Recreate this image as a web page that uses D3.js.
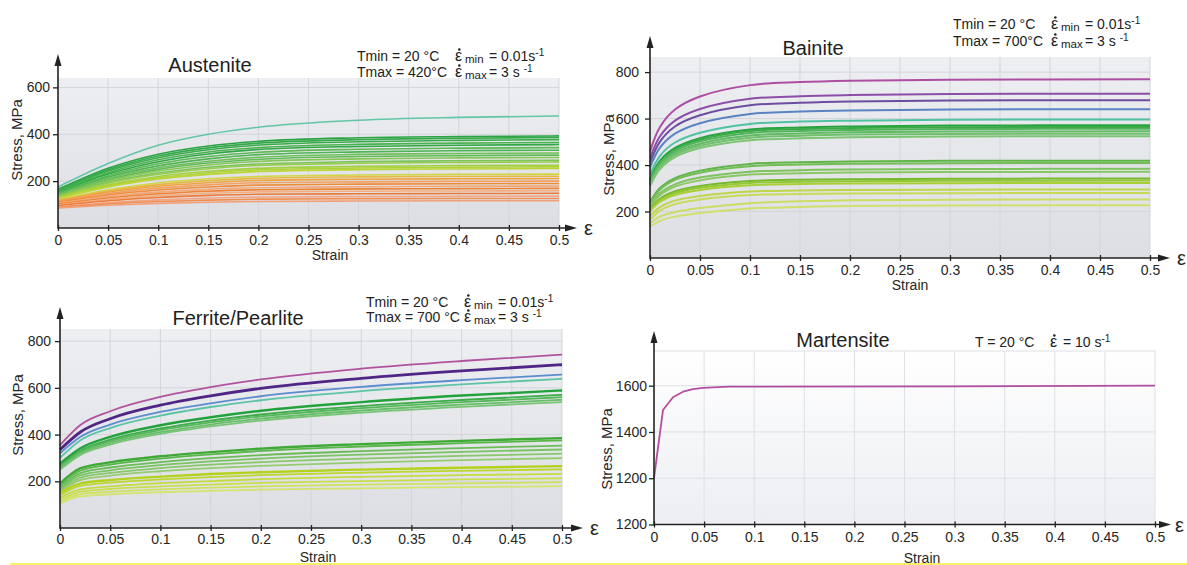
<!DOCTYPE html>
<html><head><meta charset="utf-8">
<script src="https://cdn.jsdelivr.net/npm/d3@7"></script>
<style>body{margin:0;background:#fff;}svg{display:block;}</style>
</head><body><svg id="c" width="1187" height="565"></svg>
<script>
// ---------- shared axis data ----------
const strainTicks = [0, 0.05, 0.1, 0.15, 0.2, 0.25, 0.3, 0.35, 0.4, 0.45, 0.5];
const strainTickLabels = ["0", "0.05", "0.1", "0.15", "0.2", "0.25", "0.3", "0.35", "0.4", "0.45", "0.5"];

// ---------- Austenite ----------
const austeniteStrain = [0, 0.05, 0.1, 0.15, 0.2, 0.3, 0.4, 0.5];
const austeniteStress = [
  [175, 275, 353, 400, 430, 460, 472, 478],
  [165, 255, 315, 350, 370, 385, 390, 393],
  [160, 248, 307, 342, 362, 377, 383, 386],
  [158, 243, 300, 334, 354, 368, 374, 377],
  [155, 236, 291, 324, 343, 357, 362, 365],
  [150, 230, 283, 316, 335, 348, 353, 356],
  [148, 223, 274, 305, 323, 336, 341, 343],
  [145, 217, 265, 295, 313, 325, 330, 332],
  [142, 211, 257, 285, 302, 314, 318, 320],
  [140, 206, 250, 277, 293, 305, 309, 311],
  [138, 201, 243, 269, 284, 295, 299, 301],
  [135, 195, 234, 259, 273, 283, 287, 289],
  [133, 191, 229, 253, 267, 276, 280, 282],
  [130, 184, 220, 242, 255, 263, 266, 268],
  [128, 180, 214, 236, 248, 256, 259, 261],
  [125, 175, 209, 229, 241, 249, 252, 254],
  [120, 163, 192, 210, 220, 226, 229, 230],
  [118, 158, 185, 202, 212, 218, 220, 221],
  [115, 153, 178, 193, 203, 208, 210, 211],
  [112, 147, 170, 184, 193, 197, 199, 200],
  [110, 141, 162, 175, 183, 187, 189, 190],
  [105, 134, 153, 165, 172, 176, 178, 179],
  [102, 128, 146, 157, 163, 167, 168, 169],
  [98, 122, 138, 148, 154, 157, 158, 159],
  [95, 116, 130, 139, 144, 146, 147, 148],
  [90, 108, 120, 128, 132, 134, 135, 136],
  [88, 103, 113, 119, 123, 125, 126, 126],
  [85, 97, 105, 110, 113, 115, 116, 116]
];
const austeniteColors = ["#63c6a6", "#2aa443", "#35a949", "#3aab4a", "#4ab24e", "#2fa845", "#5db953", "#4fb456", "#72c05a", "#62bb5a",
  "#86c756", "#7cc45c", "#97cd4f", "#a3d040", "#aed33a", "#b9d634", "#d2d645", "#e6b848", "#efa43f", "#f3a060",
  "#ee8c3a", "#f4a676", "#ee8336", "#f5ad80", "#ec7a34", "#f3a585", "#ef8f50", "#f2a07a"];
const austeniteYTicks = [200, 400, 600];
const austeniteYLabels = ["200", "400", "600"];

// ---------- Bainite ----------
const bainiteStrain = [0, 0.01, 0.025, 0.05, 0.1, 0.15, 0.2, 0.3, 0.5];
const bainiteStress = [
  [459, 564, 639, 695, 744, 757, 763, 767, 769],
  [430, 524, 591, 641, 685, 696, 701, 706, 707],
  [410, 501, 566, 614, 657, 668, 674, 678, 679],
  [390, 475, 535, 580, 620, 630, 635, 639, 640],
  [360, 440, 497, 539, 577, 587, 591, 595, 596],
  [340, 419, 474, 516, 553, 562, 566, 570, 571],
  [335, 413, 468, 509, 546, 555, 559, 563, 564],
  [330, 407, 461, 502, 538, 547, 551, 555, 556],
  [325, 400, 453, 492, 527, 536, 541, 544, 545],
  [318, 392, 444, 483, 518, 526, 531, 534, 535],
  [310, 383, 434, 473, 507, 515, 520, 523, 524],
  [240, 301, 344, 376, 405, 412, 415, 418, 419],
  [235, 294, 336, 367, 395, 402, 406, 408, 409],
  [225, 279, 317, 346, 371, 378, 381, 383, 384],
  [218, 270, 307, 334, 359, 365, 368, 370, 371],
  [210, 255, 287, 310, 331, 337, 339, 341, 342],
  [205, 249, 279, 302, 323, 328, 330, 332, 333],
  [200, 242, 271, 293, 313, 318, 321, 322, 323],
  [180, 219, 247, 267, 286, 290, 293, 294, 295],
  [165, 204, 232, 252, 271, 275, 278, 279, 280],
  [150, 178, 198, 215, 236, 244, 248, 251, 252],
  [135, 160, 178, 194, 213, 220, 224, 226, 227]
];
const bainiteColors = ["#ad4ea3", "#8d4ea9", "#6c4d9f", "#5a83c2", "#4fc2a2", "#27a23c", "#3aaa48", "#52b45a", "#62ba64", "#6fbf6c",
  "#7dc474", "#5fb547", "#72bd55", "#7fc35e", "#8ac866", "#76b92c", "#93c834", "#a8cf36", "#bfd64a", "#c8db58", "#cbdd62", "#d1e06c"];
const bainiteYTicks = [200, 400, 600, 800];
const bainiteYLabels = ["200", "400", "600", "800"];

// ---------- Ferrite/Pearlite ----------
const ferriteStrain = [0, 0.02, 0.05, 0.1, 0.15, 0.2, 0.3, 0.4, 0.5];
const ferriteStress = [
  [355, 440, 500, 561, 603, 636, 682, 715, 742],
  [335, 410, 468, 526, 566, 598, 641, 673, 699],
  [320, 390, 443, 497, 534, 564, 604, 633, 657],
  [300, 375, 428, 481, 518, 547, 586, 615, 639],
  [275, 340, 390, 440, 474, 502, 539, 567, 589],
  [268, 330, 378, 426, 460, 486, 522, 548, 570],
  [262, 325, 372, 419, 452, 478, 513, 539, 560],
  [256, 318, 364, 410, 443, 468, 503, 528, 549],
  [250, 312, 357, 403, 435, 460, 494, 519, 539],
  [190, 255, 281, 307, 325, 340, 359, 373, 385],
  [180, 245, 271, 297, 315, 330, 349, 363, 375],
  [170, 235, 259, 282, 299, 312, 329, 342, 353],
  [165, 225, 247, 269, 285, 297, 314, 326, 336],
  [160, 215, 236, 256, 271, 282, 297, 309, 318],
  [150, 205, 224, 243, 256, 266, 280, 291, 299],
  [150, 190, 205, 220, 231, 239, 250, 258, 265],
  [140, 180, 194, 208, 218, 226, 237, 245, 251],
  [130, 165, 178, 192, 201, 209, 219, 226, 232],
  [120, 155, 167, 178, 186, 193, 201, 208, 213],
  [110, 145, 155, 165, 173, 178, 186, 191, 196],
  [105, 135, 144, 153, 159, 164, 170, 175, 179]
];
const ferriteColors = ["#b0539f", "#4f2585", "#5b8dcf", "#5cc5a5", "#22a23a", "#3aac48", "#55b75a", "#68be68", "#78c476",
  "#3fa935", "#58b749", "#6abd56", "#7ac462", "#88c86a", "#94cc70", "#b3d21c", "#bdd72e", "#c6db40", "#cbde50", "#d0e160", "#d5e46e"];
const ferriteWidths = [1.8, 2.8, 1.8, 1.8, 2.4, 1.8, 1.8, 1.8, 1.8, 2.4, 1.8, 1.8, 1.8, 1.8, 1.8, 2.4, 1.8, 1.8, 1.8, 1.8, 1.8];
const ferriteYTicks = [200, 400, 600, 800];
const ferriteYLabels = ["200", "400", "600", "800"];

// ---------- Martensite ----------
const martensiteStrain = [0, 0.009, 0.019, 0.029, 0.039, 0.049, 0.075, 0.3, 0.5];
const martensiteStress = [[1200, 1495, 1550, 1574, 1585, 1591, 1596, 1597, 1600]];
const martensiteColors = ["#b24ea0"];
const martensiteYTicks = [1000, 1200, 1400, 1600];
const martensiteYLabels = ["1200", "1200", "1400", "1600"];

// ---------- drawing ----------
const FONT = "'Liberation Sans', Arial, Helvetica, sans-serif";
const TXT = "#262626";
const svg = d3.select("#c").attr("font-family", FONT);
const defs = svg.append("defs");
function grad(id, c0, c1) {
  const lg = defs.append("linearGradient").attr("id", id).attr("x1", 0).attr("y1", 0).attr("x2", 0).attr("y2", 1);
  lg.append("stop").attr("offset", "0%").attr("stop-color", c0);
  lg.append("stop").attr("offset", "100%").attr("stop-color", c1);
}
grad("gGrey", "#eeeff2", "#dcdee3");
grad("gWhite", "#ffffff", "#eceef2");

function panel(o) {
  const g = svg.append("g");
  const x = d3.scaleLinear().domain([0, 0.5]).range([o.left, o.right]);
  const y = d3.scaleLinear().domain(o.yDomain).range([o.bottom, o.top]);
  g.append("rect").attr("x", o.left).attr("y", o.top).attr("width", o.right - o.left)
    .attr("height", o.bottom - o.top).attr("fill", `url(#${o.bg})`);
  g.append("g").selectAll("line").data(strainTicks.slice(1)).join("line")
    .attr("x1", d => x(d)).attr("x2", d => x(d)).attr("y1", o.top).attr("y2", o.bottom)
    .attr("stroke", o.grid).attr("stroke-width", 1);
  g.append("g").selectAll("line").data(o.yGrid).join("line")
    .attr("x1", o.left).attr("x2", o.right).attr("y1", d => y(d)).attr("y2", d => y(d))
    .attr("stroke", o.grid).attr("stroke-width", 1);
  const line = d3.line().x((d, i) => x(o.strain[i])).y(d => y(d)).curve(o.curve || d3.curveMonotoneX);
  g.append("g").attr("fill", "none").selectAll("path").data(o.curves).join("path")
    .attr("d", line).attr("stroke", (d, i) => o.colors[i])
    .attr("stroke-width", (d, i) => o.widths ? o.widths[i] : o.lw)
    .attr("stroke-linejoin", "round");

  // x axis
  const xa = g.append("g").attr("transform", `translate(0,${o.bottom})`)
    .call(d3.axisBottom(x).tickValues(strainTicks).tickFormat((d, i) => strainTickLabels[i])
      .tickSize(3).tickPadding(o.xPad).tickSizeOuter(0));
  xa.attr("font-family", FONT).attr("font-size", 14);
  xa.select(".domain").remove();
  xa.selectAll(".tick line").attr("y1", -3).attr("stroke", "#222").attr("stroke-width", 1.3);
  xa.selectAll(".tick text").attr("fill", TXT);

  // y axis
  const ya = g.append("g").attr("transform", `translate(${o.left},0)`)
    .call(d3.axisLeft(y).tickValues(o.yTicks).tickFormat((d, i) => o.yLabels[i])
      .tickSize(5).tickPadding(o.yPad).tickSizeOuter(0));
  ya.attr("font-family", FONT).attr("font-size", 14);
  ya.select(".domain").remove();
  ya.selectAll(".tick line").attr("stroke", "#222").attr("stroke-width", 1.3);
  ya.selectAll(".tick text").attr("fill", TXT);

  // axis lines with arrows
  g.append("line").attr("x1", o.left).attr("x2", o.arrowX - 8).attr("y1", o.bottom).attr("y2", o.bottom)
    .attr("stroke", "#222").attr("stroke-width", 1.6);
  g.append("path").attr("d", `M${o.arrowX},${o.bottom} L${o.arrowX - 12},${o.bottom - 3.5} L${o.arrowX - 12},${o.bottom + 3.5} Z`)
    .attr("fill", "#222");
  g.append("line").attr("x1", o.left).attr("x2", o.left).attr("y1", o.bottom + 0.8).attr("y2", o.arrowY + 8)
    .attr("stroke", "#222").attr("stroke-width", 1.6);
  g.append("path").attr("d", `M${o.left},${o.arrowY} L${o.left - 3.5},${o.arrowY + 12} L${o.left + 3.5},${o.arrowY + 12} Z`)
    .attr("fill", "#222");
  g.append("text").attr("x", o.epsX || o.arrowX + 7).attr("y", o.bottom + 7).attr("font-size", 20).attr("fill", TXT).text("ε");

  // labels
  g.append("text").attr("x", o.titleX).attr("y", o.titleY).attr("text-anchor", "middle")
    .attr("font-size", 20).attr("fill", "#1e1e1e").text(o.title);
  g.append("text").attr("transform", `translate(${o.ylabX},${o.ylabY}) rotate(-90)`).attr("text-anchor", "middle")
    .attr("font-size", 15).attr("fill", TXT).text("Stress, MPa");
  g.append("text").attr("x", o.strainX).attr("y", o.strainY).attr("text-anchor", "middle")
    .attr("font-size", 14).attr("fill", TXT).text("Strain");
}

// epsilon-dot: letter as text, the dot drawn as a small circle
function epsDot(x, yb, size) {
  svg.append("text").attr("x", x).attr("y", yb).attr("font-size", size).attr("fill", "#222").text("ε");
  svg.append("circle").attr("cx", x + size * 0.27).attr("cy", yb - size * 0.72).attr("r", 1.3).attr("fill", "#222");
}
function annot(x0, yb, tTxt, sub, rest) {
  svg.append("text").attr("x", x0).attr("y", yb).attr("font-size", 14).attr("fill", "#222").text(tTxt);
  epsDot(x0 + 98, yb, 16);
  svg.append("text").attr("x", x0 + 108).attr("y", yb + 2).attr("font-size", 11.5).attr("fill", "#222").text(sub);
  const t = svg.append("text").attr("x", x0 + 132).attr("y", yb).attr("font-size", 14).attr("fill", "#222");
  t.append("tspan").text(rest);
  t.append("tspan").attr("dy", -5).attr("font-size", 10).text("-1");
}

panel({ left: 58, right: 559, top: 78, bottom: 228, yDomain: [0, 640], yTicks: austeniteYTicks, yLabels: austeniteYLabels,
  yGrid: austeniteYTicks, bg: "gGrey", grid: "#d3d5da", strain: austeniteStrain, curves: austeniteStress, colors: austeniteColors,
  lw: 1.6, xPad: 4, yPad: 3, arrowX: 577, arrowY: 54, title: "Austenite", titleX: 210, titleY: 72,
  ylabX: 22, ylabY: 140, strainX: 330, strainY: 260 });
panel({ left: 650, right: 1150, top: 57, bottom: 258, yDomain: [0, 865], yTicks: bainiteYTicks, yLabels: bainiteYLabels,
  yGrid: bainiteYTicks, bg: "gGrey", grid: "#d3d5da", strain: bainiteStrain, curves: bainiteStress, colors: bainiteColors,
  curve: d3.curveCatmullRom.alpha(0.5),
  lw: 2, xPad: 4, yPad: 6, arrowX: 1170, arrowY: 36, title: "Bainite", titleX: 813, titleY: 55,
  ylabX: 614, ylabY: 155, strainX: 910, strainY: 290 });
panel({ left: 60, right: 562, top: 329, bottom: 528, yDomain: [0, 852], yTicks: ferriteYTicks, yLabels: ferriteYLabels,
  yGrid: ferriteYTicks, bg: "gGrey", grid: "#d3d5da", strain: ferriteStrain, curves: ferriteStress, colors: ferriteColors,
  widths: ferriteWidths, xPad: 3, yPad: 4, arrowX: 583, arrowY: 307, title: "Ferrite/Pearlite", titleX: 238, titleY: 325,
  ylabX: 23, ylabY: 415, strainX: 318, strainY: 562 });
panel({ left: 654, right: 1155, top: 351, bottom: 524.5, yDomain: [1000, 1750], yTicks: martensiteYTicks, yLabels: martensiteYLabels,
  yGrid: [1200, 1400, 1600, 1750], bg: "gWhite", grid: "#dfe0e4", strain: martensiteStrain, curves: martensiteStress,
  colors: martensiteColors, curve: d3.curveLinear, lw: 1.8, xPad: 5, yPad: 2, arrowX: 1171, arrowY: 331, epsX: 1175,
  title: "Martensite", titleX: 843, titleY: 347, ylabX: 612, ylabY: 449, strainX: 922, strainY: 563 });

annot(357, 61, "Tmin = 20 °C", "min", "= 0.01s");
annot(357, 77, "Tmax = 420°C", "max", "= 3 s ");
annot(953, 29, "Tmin = 20 °C", "min", "= 0.01s");
annot(953, 46, "Tmax = 700°C", "max", "= 3 s ");
annot(366, 307, "Tmin = 20 °C", "min", "= 0.01s");
annot(366, 322, "Tmax = 700 °C", "max", "= 3 s ");
svg.append("text").attr("x", 975).attr("y", 347).attr("font-size", 14).attr("fill", "#222").text("T = 20 °C");
epsDot(1050, 347, 16);
{
  const t = svg.append("text").attr("x", 1063).attr("y", 347).attr("font-size", 14).attr("fill", "#222");
  t.append("tspan").text("= 10 s");
  t.append("tspan").attr("dy", -5).attr("font-size", 10).text("-1");
}
svg.append("line").attr("x1", 10).attr("x2", 1187).attr("y1", 564).attr("y2", 564).attr("stroke", "#f7f26a").attr("stroke-width", 2);
</script></body></html>
